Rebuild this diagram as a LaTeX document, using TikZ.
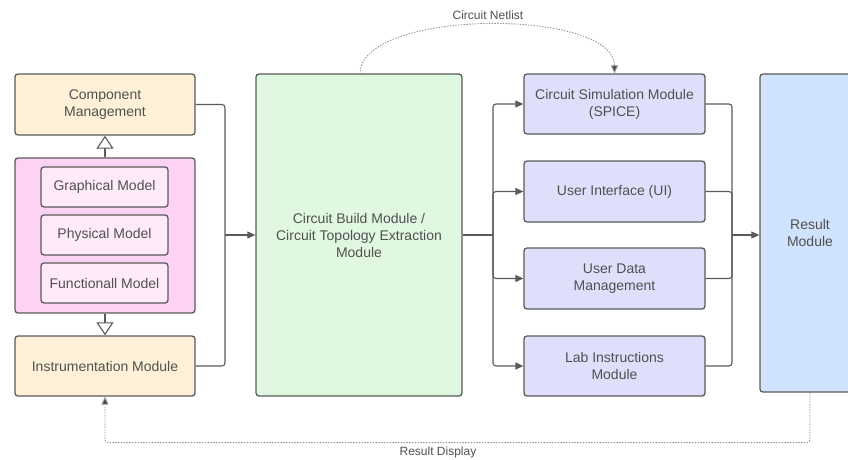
\documentclass[tikz,border=0pt]{standalone}
\usepackage{fontspec}
\setmainfont{Liberation Sans}
\usepackage{tikz}
\usetikzlibrary{arrows.meta,calc,positioning}
\definecolor{lineg}{HTML}{5A5A5A}
\definecolor{textg}{HTML}{505050}
\definecolor{creamfill}{HTML}{FFF1D8}
\definecolor{pinkfill}{HTML}{FDD2F3}
\definecolor{pinkin}{HTML}{FFEAFA}
\definecolor{greenfill}{HTML}{E0F8E0}
\definecolor{purplefill}{HTML}{DFDFFC}
\definecolor{bluefill}{HTML}{D0E3FE}

\begin{document}
\begin{tikzpicture}[x=1pt,y=-1pt,
  box/.style={draw=lineg,line width=1.3pt,rounded corners=3pt,align=center,
              text=textg,font=\fontsize{14}{17}\selectfont,inner sep=0pt},
  conn/.style={draw=lineg,line width=1.1pt,rounded corners=3pt},
  arr/.style={conn,-{Triangle[length=8pt,width=7pt]}},
  hollow/.style={draw=lineg,line width=1.1pt,
                 -{Triangle[open,length=13pt,width=17pt,fill=white]}},
  dotarr/.style={draw=gray!85,line width=0.9pt,dash pattern=on 1.4pt off 1.4pt,
                 rounded corners=3pt,-{Triangle[length=8pt,width=7pt,fill=lineg!80!black]}},
  lab/.style={text=textg,font=\fontsize{12}{14}\selectfont}]
  \useasboundingbox (0,0) rectangle (848,460);
  \node[box,fill=creamfill,minimum width=180pt,minimum height=61pt] (comp) at (105,104.5)
    {Component\\Management};
  \node[box,fill=pinkfill,minimum width=180pt,minimum height=155pt] (models) at (105,235.5) {};
  \node[box,fill=pinkin,minimum width=127pt,minimum height=40pt] (graph) at (104.5,187) {Graphical Model};
  \node[box,fill=pinkin,minimum width=127pt,minimum height=40pt] (phys) at (104.5,235) {Physical Model};
  \node[box,fill=pinkin,minimum width=127pt,minimum height=40pt] (func) at (104.5,283) {Functionall Model};
  \node[box,fill=creamfill,minimum width=180pt,minimum height=60pt] (instr) at (105,366)
    {Instrumentation Module};
  \node[box,fill=greenfill,minimum width=206pt,minimum height=322pt] (build) at (359,235)
    {Circuit Build Module /\\Circuit Topology Extraction\\Module};
  \node[box,fill=purplefill,minimum width=181pt,minimum height=60pt] (sim) at (614.5,104)
    {Circuit Simulation Module\\(SPICE)};
  \node[box,fill=purplefill,minimum width=181pt,minimum height=61pt] (ui) at (614.5,191.5)
    {User Interface (UI)};
  \node[box,fill=purplefill,minimum width=181pt,minimum height=61pt] (udata) at (614.5,278.5)
    {User Data\\Management};
  \node[box,fill=purplefill,minimum width=181pt,minimum height=60pt] (lab) at (614.5,366)
    {Lab Instructions\\Module};
  \node[box,fill=bluefill,minimum width=100pt,minimum height=318pt] (result) at (810,233)
    {Result\\Module};
  \coordinate (jl) at (225,235);
  \coordinate (jm) at (493,235);
  \coordinate (jr) at (732,235);
  \draw[hollow] (models.north) -- (comp.south);
  \draw[hollow] (models.south) -- (instr.north);
  \draw[conn] (comp.east) -| (jl);
  \draw[conn] (instr.east) -| (jl);
  \draw[arr] (jl) -- (build.west);
  \draw[conn] (build.east) -- (jm);
  \foreach \n in {sim,ui,udata,lab}
    \draw[arr] (jm) |- (\n.west);
  \foreach \n in {sim,ui,udata,lab}
    \draw[conn] (\n.east) -| (jr);
  \draw[arr] (jr) -- (jr -| result.west);
  \draw[dotarr] (360,74) .. controls (360,8) and (614.5,8) .. (sim.north);
  \node[lab] (netlist) at (488,15) {Circuit Netlist};
  \draw[dotarr] (result.south) -- ++(0,50) -| (instr.south);
  \node[lab] (display) at (438,452) {Result Display};
\end{tikzpicture}
\end{document}
